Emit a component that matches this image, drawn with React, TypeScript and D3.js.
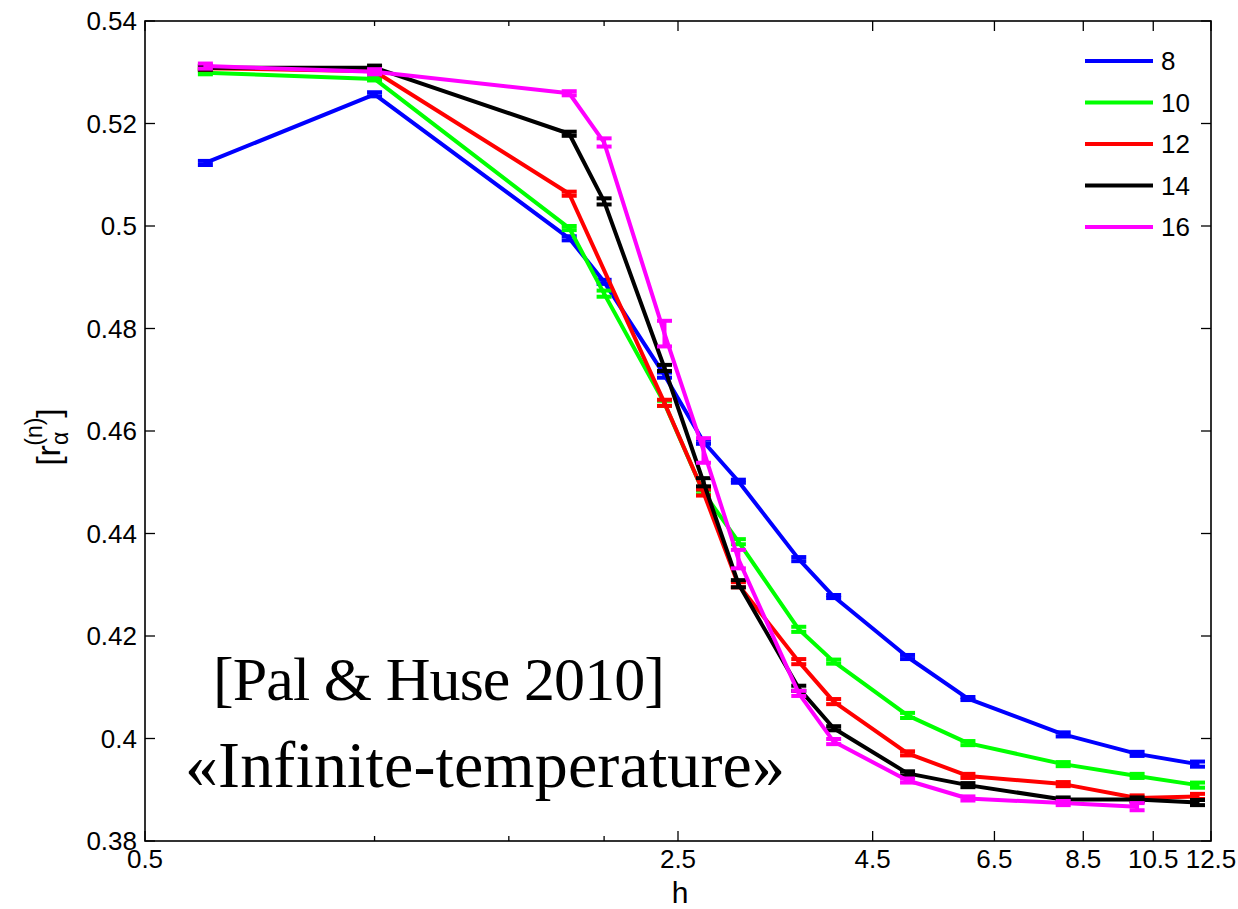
import React from "react";
import * as d3 from "d3";

const H = [0.6, 1.0, 1.8, 2.0, 2.4, 2.7, 3.0, 3.6, 4.0, 5.0, 6.0, 8.0, 10.0, 12.0];

const L8 = [0.5123, 0.5257, 0.4976, 0.4891, 0.4709, 0.4579, 0.4502, 0.435, 0.4277, 0.4159, 0.4078, 0.4008, 0.397, 0.395];
const L10 = [0.5299, 0.5287, 0.4996, 0.4868, 0.4654, 0.448, 0.4384, 0.4213, 0.415, 0.4045, 0.3991, 0.395, 0.3927, 0.3909];
const L12 = [0.5308, 0.5302, 0.5063, null, 0.4655, 0.448, 0.43, 0.415, 0.4072, 0.3971, 0.3927, 0.3911, 0.3884, 0.3887];
const L14 = [0.5309, 0.5309, 0.518, 0.5048, 0.4723, 0.45, 0.4302, 0.4098, 0.402, 0.3932, 0.3909, 0.3881, 0.3881, 0.3875];
const L16 = [0.5312, 0.5301, 0.5259, 0.5163, 0.479, 0.4562, 0.435, 0.4088, 0.3994, 0.3918, 0.3883, 0.3874, 0.3867, null];

const E8 = [0.0004, 0.0004, 0.0004, 0.0004, 0.0005, 0.0004, 0.0003, 0.0004, 0.0003, 0.0004, 0.0003, 0.0004, 0.0004, 0.0005];
const E10 = [0.0003, 0.0003, 0.0004, 0.0006, 0.0005, 0.0004, 0.0005, 0.0005, 0.0004, 0.0005, 0.0004, 0.0004, 0.0004, 0.0005];
const E12 = [0.0003, 0.0003, 0.0004, null, 0.0006, 0.0006, 0.0005, 0.0005, 0.0005, 0.0004, 0.0004, 0.0004, 0.0005, 0.0005];
const E14 = [0.0004, 0.0004, 0.0004, 0.0006, 0.0006, 0.0008, 0.0007, 0.0005, 0.0004, 0.0004, 0.0004, 0.0004, 0.0004, 0.0005];
const E16 = [0.0005, 0.0005, 0.0004, 0.0008, 0.0025, 0.0024, 0.0018, 0.0005, 0.0005, 0.0004, 0.0004, 0.0004, 0.0007, null];

const SERIES_NAMES = ["8", "10", "12", "14", "16"];
const SERIES_VALUES = [L8, L10, L12, L14, L16];
const SERIES_ERRORS = [E8, E10, E12, E14, E16];
const SERIES_COLORS = ["#0000ff", "#00ff00", "#ff0000", "#000000", "#ff00ff"];

const X_MAJOR_TICKS = [0.5, 2.5, 4.5, 6.5, 8.5, 10.5, 12.5];
const X_MINOR_TICKS = [1, 1.5, 2];
const Y_TICKS = [0.38, 0.4, 0.42, 0.44, 0.46, 0.48, 0.5, 0.52, 0.54];

const W = 1238;
const HT = 909;
const M = { left: 145, right: 1211, top: 21, bottom: 841 };

export default function App() {
  const x = d3.scaleLog().domain([0.5, 12.5]).range([M.left, M.right]);
  const y = d3.scaleLinear().domain([0.38, 0.54]).range([M.bottom, M.top]);
  const fmtY = (v: number) => String(+v.toFixed(2));
  const fmtX = (v: number) => String(v);

  const line = d3
    .line<{ h: number; v: number }>()
    .x((d) => x(d.h))
    .y((d) => y(d.v));

  const font = "'Liberation Sans', Arial, Helvetica, sans-serif";
  const tickFs = 26;
  const majorLen = 10;
  const minorLen = 5;

  return (
    <svg
      width={W}
      height={HT}
      style={{ position: "absolute", left: 0, top: 0, background: "#fff" }}
    >
      <rect x={0} y={0} width={W} height={HT} fill="#fff" />
      {/* series */}
      {SERIES_VALUES.map((vals, si) => {
        const pts = H.map((h, i) => ({ h, v: vals[i] as number, e: SERIES_ERRORS[si][i] as number })).filter(
          (d) => d.v != null
        );
        const color = SERIES_COLORS[si];
        return (
          <g key={si}>
            <path d={line(pts) || ""} fill="none" stroke={color} strokeWidth={4} strokeLinejoin="round" />
            {pts.map((d, i) => {
              const cx = x(d.h);
              const y1 = y(d.v + d.e);
              const y0 = y(d.v - d.e);
              return (
                <g key={i} stroke={color} strokeWidth={4}>
                  <line x1={cx} x2={cx} y1={y0} y2={y1} />
                  <line x1={cx - 7.5} x2={cx + 7.5} y1={y1} y2={y1} />
                  <line x1={cx - 7.5} x2={cx + 7.5} y1={y0} y2={y0} />
                </g>
              );
            })}
          </g>
        );
      })}

      {/* axes box */}
      <rect
        x={M.left}
        y={M.top}
        width={M.right - M.left}
        height={M.bottom - M.top}
        fill="none"
        stroke="#000"
        strokeWidth={1.6}
      />
      {/* y ticks */}
      {Y_TICKS.map((t) => (
        <g key={"y" + t}>
          <line x1={M.left} x2={M.left + majorLen} y1={y(t)} y2={y(t)} stroke="#000" strokeWidth={1.3} />
          <line x1={M.right} x2={M.right - majorLen} y1={y(t)} y2={y(t)} stroke="#000" strokeWidth={1.3} />
          <text
            x={M.left - 8}
            y={y(t) + tickFs * 0.36}
            textAnchor="end"
            fontFamily={font}
            fontSize={tickFs}
            fill="#000"
          >
            {fmtY(t)}
          </text>
        </g>
      ))}
      {/* x ticks */}
      {X_MAJOR_TICKS.map((t) => (
        <g key={"x" + t}>
          <line x1={x(t)} x2={x(t)} y1={M.bottom} y2={M.bottom - majorLen} stroke="#000" strokeWidth={1.3} />
          <line x1={x(t)} x2={x(t)} y1={M.top} y2={M.top + majorLen} stroke="#000" strokeWidth={1.3} />
          <text x={x(t)} y={868} textAnchor="middle" fontFamily={font} fontSize={tickFs} fill="#000">
            {fmtX(t)}
          </text>
        </g>
      ))}
      {X_MINOR_TICKS.map((t) => (
        <g key={"xm" + t}>
          <line x1={x(t)} x2={x(t)} y1={M.bottom} y2={M.bottom - minorLen} stroke="#000" strokeWidth={1.3} />
          <line x1={x(t)} x2={x(t)} y1={M.top} y2={M.top + minorLen} stroke="#000" strokeWidth={1.3} />
        </g>
      ))}

      {/* axis labels */}
      <text x={680} y={903} textAnchor="middle" fontFamily={font} fontSize={30} fill="#000">
        h
      </text>
      <text
        transform="translate(60, 437) rotate(-90)"
        textAnchor="middle"
        fontFamily={font}
        fontSize={34}
        fill="#000"
      >
        <tspan>[r</tspan>
        <tspan fontSize={23} dy={8}>
          α
        </tspan>
        <tspan fontSize={23} dx={-14} dy={-26}>
          (n)
        </tspan>
        <tspan dy={18}>]</tspan>
      </text>

      {/* legend */}
      {SERIES_NAMES.map((n, i) => {
        const ly = 61 + i * 41.5;
        return (
          <g key={"lg" + n}>
            <line x1={1085} x2={1153} y1={ly} y2={ly} stroke={SERIES_COLORS[i]} strokeWidth={4} />
            <text x={1161} y={ly + tickFs * 0.36} fontFamily={font} fontSize={tickFs} fill="#000">
              {n}
            </text>
          </g>
        );
      })}

      {/* annotation */}
      <text
        x={213}
        y={700}
        fontFamily="'Liberation Serif', 'Times New Roman', serif"
        fontSize={62}
        textLength={452}
        lengthAdjust="spacing"
        style={{ fontVariantNumeric: "oldstyle-nums" }}
        fill="#000"
      >
        [Pal &amp; Huse 2010]
      </text>
      <text
        x={185}
        y={787}
        fontFamily="'Liberation Serif', 'Times New Roman', serif"
        fontSize={66}
        textLength={600}
        lengthAdjust="spacing"
        fill="#000"
      >
        «Infinite-temperature»
      </text>
    </svg>
  );
}
